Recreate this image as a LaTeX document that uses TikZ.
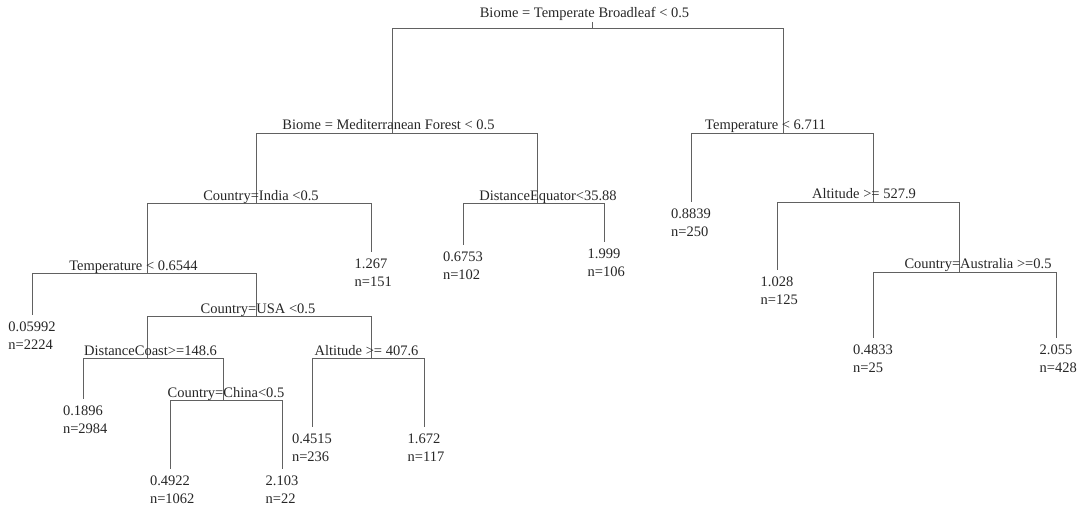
\documentclass[tikz,border=0pt]{standalone}
\usepackage{fontspec}
\setmainfont{Liberation Serif}
\begin{document}
\begin{tikzpicture}[x=1pt,y=-1pt,
  edge/.style={draw=black!62,line width=0.9pt},
  txt/.style={inner sep=0pt,text=black!85,font=\fontsize{14.5}{17}\selectfont},
  lbl/.style={txt,anchor=base},
  val/.style={txt,anchor=base},
  cnt/.style={txt,anchor=base west}]
\useasboundingbox (0,0) rectangle (1083,508);
% split points
\coordinate (top) at (592,22);
\coordinate (root) at (592,28);
\coordinate (med) at (392,133);
\coordinate (temp1) at (783,133);
\coordinate (india) at (256,203);
\coordinate (deq) at (537,203);
\coordinate (alt1) at (873,202);
\coordinate (temp2) at (147,273);
\coordinate (aus) at (959,272);
\coordinate (usa) at (256,316);
\coordinate (coast) at (147,358);
\coordinate (alt2) at (371,358);
\coordinate (china) at (223,400);
% leaf ends
\coordinate (l1267) at (371,252);
\coordinate (l6753) at (463,245);
\coordinate (l1999) at (604,242);
\coordinate (l8839) at (691,202);
\coordinate (l1028) at (777,270);
\coordinate (l05992) at (32,315);
\coordinate (l1896) at (83,399);
\coordinate (l4922) at (170,469);
\coordinate (l2103) at (282,469);
\coordinate (l4515) at (312,427);
\coordinate (l1672) at (424,427);
\coordinate (l4833) at (873,338);
\coordinate (l2055) at (1056,338);
% connectors
\draw[edge] (top) -- (root);
\draw[edge] (root) -| (med);
\draw[edge] (root) -| (temp1);
\draw[edge] (med) -| (india);
\draw[edge] (med) -| (deq);
\draw[edge] (temp1) -| (l8839);
\draw[edge] (temp1) -| (alt1);
\draw[edge] (india) -| (temp2);
\draw[edge] (india) -| (l1267);
\draw[edge] (deq) -| (l6753);
\draw[edge] (deq) -| (l1999);
\draw[edge] (alt1) -| (l1028);
\draw[edge] (alt1) -| (aus);
\draw[edge] (temp2) -| (l05992);
\draw[edge] (temp2) -| (usa);
\draw[edge] (usa) -| (coast);
\draw[edge] (usa) -| (alt2);
\draw[edge] (coast) -| (l1896);
\draw[edge] (coast) -| (china);
\draw[edge] (china) -| (l4922);
\draw[edge] (china) -| (l2103);
\draw[edge] (alt2) -| (l4515);
\draw[edge] (alt2) -| (l1672);
\draw[edge] (aus) -| (l4833);
\draw[edge] (aus) -| (l2055);
% split labels
\node[lbl] (troot) at (584.5,18) {Biome = Temperate Broadleaf < 0.5};
\node[lbl] (tmed) at (388.5,129) {Biome = Mediterranean Forest < 0.5};
\node[lbl] (ttemp1) at (765.5,129) {Temperature < 6.711};
\node[lbl] (tindia) at (261,200) {Country=India <0.5};
\node[lbl] (tdeq) at (548,200) {DistanceEquator<35.88};
\node[lbl] (talt1) at (864,198) {Altitude >= 527.9};
\node[lbl] (ttemp2) at (133.5,270) {Temperature < 0.6544};
\node[lbl] (tusa) at (258,313) {Country=USA <0.5};
\node[lbl] (taus) at (978,268) {Country=Australia >=0.5};
\node[lbl] (tcoast) at (150.5,355) {DistanceCoast>=148.6};
\node[lbl] (talt2) at (366.5,355) {Altitude >= 407.6};
\node[lbl] (tchina) at (226,397) {Country=China<0.5};
% leaf labels
\newcommand\leaf[4]{%
  \node[val] (v#1) at ([yshift=-16pt]#1) {#2};
  \node[cnt] (n#1) at ([yshift=-18.5pt]v#1.base west) {n=#3};}
\leaf{l1267}{1.267}{151}{}
\leaf{l6753}{0.6753}{102}{}
\leaf{l1999}{1.999}{106}{}
\leaf{l8839}{0.8839}{250}{}
\leaf{l1028}{1.028}{125}{}
\leaf{l05992}{0.05992}{2224}{}
\leaf{l1896}{0.1896}{2984}{}
\leaf{l4922}{0.4922}{1062}{}
\leaf{l2103}{2.103}{22}{}
\leaf{l4515}{0.4515}{236}{}
\leaf{l1672}{1.672}{117}{}
\leaf{l4833}{0.4833}{25}{}
\leaf{l2055}{2.055}{428}{}
\end{tikzpicture}
\end{document}
